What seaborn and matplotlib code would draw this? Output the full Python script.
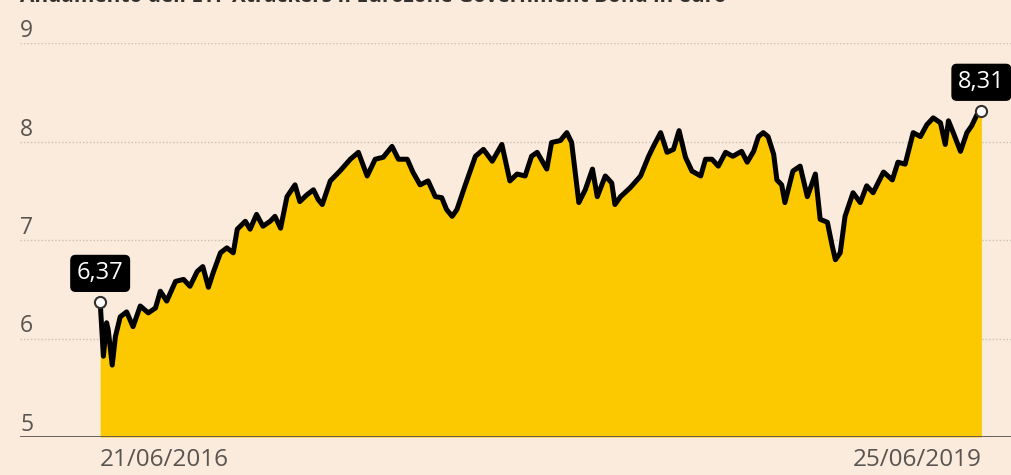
import matplotlib
matplotlib.use("Agg")
import matplotlib.pyplot as plt
import numpy as np
import pandas as pd
import seaborn as sns

# ---- data ----
start_date = "2016-06-21"
end_date = "2019-06-25"
days = [0, 4, 8, 10, 15, 19, 25, 33, 41, 50, 60, 69, 75, 83, 94, 104, 112, 121, 128, 135,
        141, 150, 158, 166, 171, 181, 187, 195, 203, 212, 218, 225, 233, 243, 249, 258, 266, 272,
        277, 287, 299, 312, 322, 333, 343, 353, 364, 372, 383, 390, 399, 409, 418, 426, 432, 439,
        445, 455, 468, 478, 489, 501, 511, 520, 530, 538, 545, 557, 563, 574, 582, 588, 597, 605,
        614, 620, 630, 638, 642, 649, 661, 674, 684, 690, 699, 707, 715, 722, 730, 738, 749, 755,
        763, 771, 780, 789, 800, 807, 815, 821, 827, 833, 840, 844, 850, 854, 864, 873, 882, 892,
        898, 907, 913, 917, 923, 929, 939, 948, 956, 964, 977, 988, 995, 1004, 1014, 1023, 1031,
        1039, 1048, 1054, 1058, 1064, 1073, 1081, 1087, 1094, 1099]
values = [6.37, 5.82, 6.16, 6.09, 5.73, 6.02, 6.22, 6.27, 6.12, 6.33, 6.26, 6.31, 6.48, 6.38,
          6.58, 6.60, 6.53, 6.68, 6.73, 6.52, 6.67, 6.87, 6.92, 6.87, 7.11, 7.19, 7.11, 7.26, 7.14,
          7.19, 7.24, 7.12, 7.44, 7.56, 7.39, 7.46, 7.51, 7.41,
          7.36, 7.60, 7.70, 7.82, 7.89, 7.65, 7.82, 7.84, 7.95, 7.82, 7.82, 7.69, 7.56, 7.60, 7.44,
          7.43, 7.31, 7.24, 7.31, 7.55, 7.85, 7.92, 7.80, 7.97, 7.60, 7.67, 7.65, 7.85, 7.89, 7.72,
          7.99, 8.01, 8.09, 7.99, 7.38, 7.51, 7.72, 7.44, 7.65, 7.58, 7.36, 7.44, 7.53, 7.65, 7.85,
          7.95, 8.09, 7.89, 7.92, 8.11, 7.84, 7.70, 7.65, 7.82, 7.82, 7.75, 7.89, 7.85, 7.90, 7.79,
          7.90, 8.05, 8.09, 8.05, 7.87, 7.61, 7.56, 7.38, 7.70, 7.75, 7.44, 7.67, 7.21, 7.18, 6.94,
          6.80, 6.87, 7.24, 7.48, 7.38, 7.55, 7.48, 7.69, 7.61, 7.79, 7.77, 8.09, 8.05, 8.17, 8.24,
          8.19, 7.97, 8.21, 8.09, 7.90, 8.09, 8.16, 8.28, 8.31]
y_ticks = [5, 6, 7, 8, 9]
x_tick_labels = ["21/06/2016", "25/06/2019"]
first_label = "6,37"
last_label = "8,31"
title = "Andamento dell'ETF Xtrackers II Eurozone Government Bond in euro"

dates = pd.Timestamp(start_date) + pd.to_timedelta(days, unit="D")
df = pd.DataFrame({"date": dates, "value": values})

BG = "#FAEBDC"
YELLOW = "#FCC800"
GREY = "#5a5450"

sns.set_theme(style="white")
plt.rcParams["font.family"] = ["Open Sans", "DejaVu Sans"]

fig = plt.figure(figsize=(10.11, 4.75), dpi=100, facecolor=BG)
ax = fig.add_axes([20 / 1011, 38 / 475, 1 - 20 / 1011, (437 - 43) / 475])
ax.set_facecolor(BG)

ax.fill_between(df["date"], 5, df["value"], color=YELLOW, linewidth=0, zorder=2)
sns.lineplot(data=df, x="date", y="value", ax=ax, color="black", linewidth=3.6,
             zorder=3, legend=False)
ax.set_xlabel("")
ax.set_ylabel("")

# axes limits
d0 = pd.Timestamp(start_date)
d1 = pd.Timestamp(end_date)
ax.set_xlim(d0 - pd.Timedelta(days=100), d1 + pd.Timedelta(days=37))
ax.set_ylim(5, 9)

# grid lines
for v in y_ticks[1:]:
    ax.axhline(v, color="#c9bfb4", linewidth=1.0, linestyle=(0, (1, 1.5)), zorder=1)
ax.axhline(5, color=GREY, linewidth=2.0, zorder=4)

for s in ax.spines.values():
    s.set_visible(False)

# y labels above grid lines
ax.set_yticks(y_ticks)
ax.set_yticklabels([])
ax.tick_params(axis="both", length=0)
for v in y_ticks:
    ax.annotate(str(v), xy=(0, v), xycoords=("axes fraction", "data"),
                xytext=(0, 0), textcoords="offset points", ha="left", va="bottom",
                fontsize=16.5, color=GREY)

# x labels
ax.set_xticks([d0, d1])
ax.set_xticklabels(x_tick_labels, fontsize=17.5, color=GREY)
labs = ax.get_xticklabels()
labs[0].set_ha("left")
labs[1].set_ha("right")
ax.tick_params(axis="x", pad=8)

# end markers and labels
for d, v, lab in [(df["date"].iloc[0], df["value"].iloc[0], first_label),
                  (df["date"].iloc[-1], df["value"].iloc[-1], last_label)]:
    ax.plot([d], [v], marker="o", markersize=8, markerfacecolor="white",
            markeredgecolor="#33302E", markeredgewidth=1.5, zorder=6, clip_on=False)
    ax.annotate(lab, xy=(d, v), xytext=(0, 12), textcoords="offset points",
                ha="center", va="bottom", fontsize=17, color="white", zorder=7,
                annotation_clip=False,
                bbox=dict(boxstyle="round,pad=0.25,rounding_size=0.2", fc="black", ec="black"))

# partially visible title at the top edge
fig.text(20 / 1011, 1.0 + 4 / 475, title, ha="left", va="center", fontsize=15,
         fontweight="bold", color="#33302E")

fig.savefig("out.png", dpi=100, facecolor=BG)
